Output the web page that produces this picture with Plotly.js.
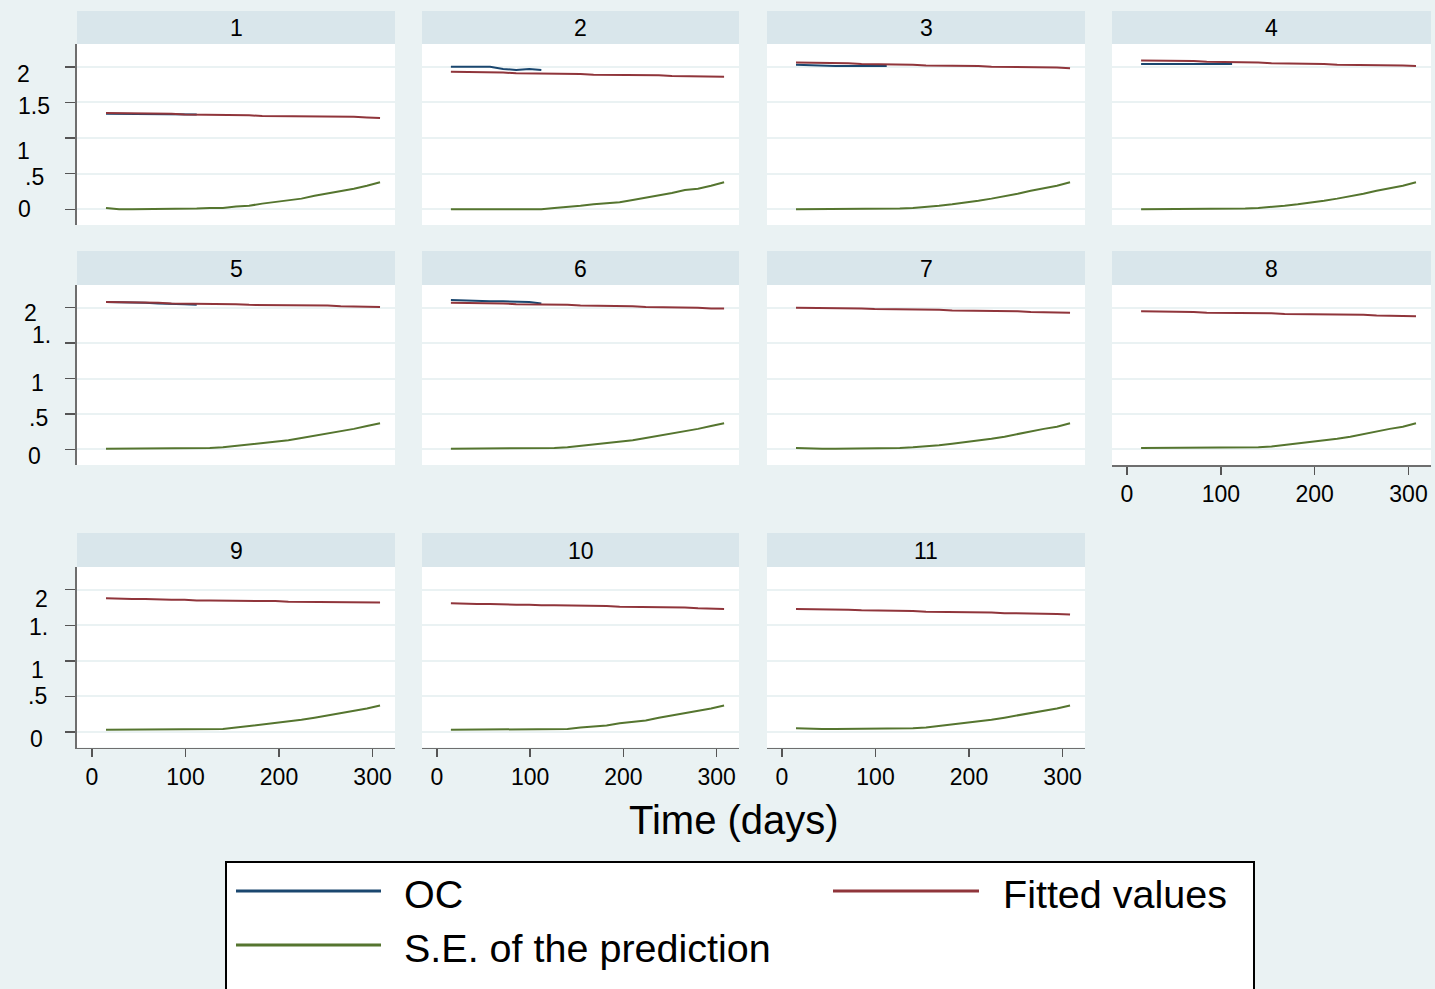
<!DOCTYPE html>
<html>
<head>
<meta charset="utf-8">
<script src="https://cdn.plot.ly/plotly-3.0.1.min.js"></script>
<style>html,body{margin:0;padding:0;background:#eaf2f3;}#chart{width:1435px;height:989px;}</style>
</head>
<body>
<div id="chart"></div>
<script>
// ---------- DATA ----------
const panelLabels = ["1","2","3","4","5","6","7","8","9","10","11"];
const days = [15, 29, 43, 57, 71, 85, 99, 112, 126, 140, 154, 168, 182, 196, 210, 224, 238, 252, 266, 280, 294, 308];
const ocDays = [15, 29, 43, 57, 71, 85, 99, 112];
const xTickVals = [0, 100, 200, 300];
const xTickText = ["0", "100", "200", "300"];
const yGridVals = [0, 0.5, 1, 1.5, 2];

// observed OC (panels 1-6 only)
const oc1 = [1.34, 1.34, 1.34, 1.34, 1.33, 1.33, 1.33, 1.33];
const oc2 = [2.00, 2.00, 2.00, 2.00, 1.97, 1.955, 1.97, 1.955];
const oc3 = [2.03, 2.02, 2.02, 2.01, 2.01, 2.01, 2.01, 2.01];
const oc4 = [2.04, 2.04, 2.04, 2.03, 2.03, 2.04, 2.04, 2.04];
const oc5 = [2.08, 2.08, 2.07, 2.07, 2.06, 2.06, 2.05, 2.04];
const oc6 = [2.11, 2.10, 2.10, 2.09, 2.09, 2.09, 2.08, 2.06];

// fitted values
const fit1  = [1.35, 1.35, 1.34, 1.34, 1.34, 1.34, 1.33, 1.33, 1.33, 1.32, 1.32, 1.32, 1.31, 1.31, 1.31, 1.31, 1.30, 1.30, 1.30, 1.30, 1.29, 1.28];
const fit2  = [1.93, 1.93, 1.93, 1.92, 1.92, 1.91, 1.91, 1.91, 1.90, 1.90, 1.90, 1.89, 1.89, 1.89, 1.89, 1.88, 1.88, 1.87, 1.87, 1.87, 1.86, 1.86];
const fit3  = [2.06, 2.06, 2.05, 2.05, 2.05, 2.04, 2.04, 2.03, 2.03, 2.03, 2.02, 2.02, 2.01, 2.01, 2.01, 2.00, 2.00, 2.00, 1.99, 1.99, 1.99, 1.98];
const fit4  = [2.09, 2.09, 2.08, 2.08, 2.08, 2.07, 2.07, 2.06, 2.06, 2.06, 2.05, 2.05, 2.04, 2.04, 2.04, 2.03, 2.03, 2.03, 2.03, 2.02, 2.02, 2.01];
const fit5  = [2.08, 2.08, 2.08, 2.07, 2.07, 2.06, 2.06, 2.06, 2.05, 2.05, 2.05, 2.04, 2.04, 2.04, 2.04, 2.03, 2.03, 2.03, 2.02, 2.02, 2.01, 2.01];
const fit6  = [2.07, 2.07, 2.06, 2.06, 2.06, 2.05, 2.05, 2.04, 2.04, 2.04, 2.03, 2.03, 2.02, 2.02, 2.02, 2.01, 2.01, 2.01, 2.00, 2.00, 1.99, 1.99];
const fit7  = [2.00, 2.00, 2.00, 1.99, 1.99, 1.99, 1.98, 1.98, 1.98, 1.97, 1.97, 1.97, 1.96, 1.96, 1.96, 1.95, 1.95, 1.95, 1.94, 1.94, 1.93, 1.93];
const fit8  = [1.95, 1.95, 1.94, 1.94, 1.94, 1.93, 1.93, 1.93, 1.92, 1.92, 1.92, 1.91, 1.91, 1.91, 1.91, 1.90, 1.90, 1.90, 1.89, 1.89, 1.88, 1.88];
const fit9  = [1.88, 1.87, 1.87, 1.87, 1.86, 1.86, 1.86, 1.85, 1.85, 1.85, 1.84, 1.84, 1.84, 1.84, 1.83, 1.83, 1.83, 1.83, 1.82, 1.82, 1.82, 1.82];
const fit10 = [1.81, 1.80, 1.80, 1.80, 1.79, 1.79, 1.79, 1.78, 1.78, 1.78, 1.77, 1.77, 1.77, 1.76, 1.76, 1.76, 1.75, 1.75, 1.75, 1.74, 1.74, 1.73];
const fit11 = [1.73, 1.73, 1.72, 1.72, 1.72, 1.71, 1.71, 1.70, 1.70, 1.70, 1.69, 1.69, 1.69, 1.68, 1.68, 1.68, 1.67, 1.67, 1.67, 1.66, 1.66, 1.65];

// standard error of the prediction
const se1  = [0.02, 0.00, 0.00, 0.00, 0.00, 0.00, 0.01, 0.01, 0.02, 0.02, 0.04, 0.05, 0.08, 0.10, 0.13, 0.15, 0.19, 0.22, 0.26, 0.29, 0.33, 0.38];
const se2  = [0.00, 0.00, 0.00, 0.00, 0.00, 0.00, 0.00, 0.00, 0.02, 0.03, 0.05, 0.07, 0.08, 0.10, 0.13, 0.16, 0.19, 0.23, 0.27, 0.29, 0.33, 0.38];
const se3  = [0.00, 0.00, 0.00, 0.00, 0.00, 0.00, 0.00, 0.00, 0.01, 0.02, 0.03, 0.05, 0.07, 0.09, 0.12, 0.15, 0.18, 0.22, 0.26, 0.29, 0.33, 0.38];
const se4  = [0.00, 0.00, 0.00, 0.00, 0.00, 0.00, 0.00, 0.00, 0.01, 0.02, 0.03, 0.05, 0.07, 0.09, 0.12, 0.15, 0.18, 0.22, 0.26, 0.29, 0.33, 0.38];
const se5  = [0.01, 0.01, 0.01, 0.01, 0.01, 0.01, 0.01, 0.01, 0.02, 0.03, 0.05, 0.06, 0.09, 0.11, 0.13, 0.16, 0.19, 0.23, 0.26, 0.29, 0.33, 0.37];
const se6  = [0.01, 0.01, 0.01, 0.01, 0.01, 0.01, 0.01, 0.01, 0.02, 0.03, 0.05, 0.06, 0.09, 0.11, 0.13, 0.16, 0.19, 0.23, 0.26, 0.29, 0.33, 0.37];
const se7  = [0.02, 0.01, 0.01, 0.01, 0.01, 0.01, 0.01, 0.02, 0.02, 0.03, 0.04, 0.06, 0.08, 0.10, 0.12, 0.15, 0.18, 0.22, 0.26, 0.29, 0.32, 0.37];
const se8  = [0.02, 0.02, 0.02, 0.02, 0.02, 0.02, 0.02, 0.02, 0.02, 0.03, 0.04, 0.06, 0.08, 0.10, 0.12, 0.15, 0.18, 0.22, 0.26, 0.29, 0.32, 0.37];
const se9  = [0.03, 0.03, 0.03, 0.03, 0.03, 0.03, 0.03, 0.03, 0.04, 0.04, 0.06, 0.08, 0.10, 0.12, 0.14, 0.17, 0.20, 0.23, 0.27, 0.30, 0.33, 0.37];
const se10 = [0.03, 0.03, 0.03, 0.03, 0.03, 0.03, 0.03, 0.03, 0.03, 0.04, 0.06, 0.07, 0.09, 0.12, 0.14, 0.16, 0.20, 0.23, 0.26, 0.29, 0.33, 0.37];
const se11 = [0.05, 0.04, 0.04, 0.04, 0.04, 0.04, 0.04, 0.05, 0.05, 0.05, 0.06, 0.08, 0.10, 0.12, 0.14, 0.17, 0.20, 0.23, 0.26, 0.30, 0.33, 0.37];

// y tick label texts per row (as printed in the original)
const yLabelsRow1 = ["2", "1.5", "1", ".5", "0"];
const yLabelsRow2 = ["2", "1.", "1", ".5", "0"];
const yLabelsRow3 = ["2", "1.", "1", ".5", "0"];

const legendNames = ["OC", "Fitted values", "S.E. of the prediction"];
const xTitle = "Time (days)";

// ---------- STYLE / LAYOUT ----------
const ocList = [oc1, oc2, oc3, oc4, oc5, oc6, null, null, null, null, null];
const fitList = [fit1, fit2, fit3, fit4, fit5, fit6, fit7, fit8, fit9, fit10, fit11];
const seList = [se1, se2, se3, se4, se5, se6, se7, se8, se9, se10, se11];

const W = 1435, H = 989;
const colPx = [[77, 395], [422, 739], [767, 1085], [1112, 1431]];
const rowPx = [[44, 225], [285, 465], [567, 747.5]];
const headPx = [[11, 44], [251, 285], [533, 567]];
const COL_OC = "#1a476f", COL_FIT = "#90353b", COL_SE = "#55752f";
const BG = "#eaf2f3", HEAD = "#d9e6eb";
const FONT = "Liberation Sans, Arial, sans-serif";

const px = v => v / W;
const py = v => 1 - v / H;

const traces = [];
const layout = {
  width: W, height: H,
  margin: {l: 0, r: 0, t: 0, b: 0},
  paper_bgcolor: BG, plot_bgcolor: "#ffffff",
  showlegend: false,
  font: {family: FONT, color: "#000000"},
  shapes: [], annotations: []
};

for (let i = 0; i < 11; i++) {
  const r = Math.floor(i / 4), c = i % 4;
  const n = i + 1;
  const xa = "x" + (n === 1 ? "" : n), ya = "y" + (n === 1 ? "" : n);
  const xKey = "xaxis" + (n === 1 ? "" : n), yKey = "yaxis" + (n === 1 ? "" : n);
  const isBottom = (n >= 8);
  const isLeft = (c === 0);

  layout[xKey] = {
    domain: [px(colPx[c][0]), px(colPx[c][1])],
    anchor: ya, range: [-16, 324],
    showgrid: false, zeroline: false,
    showline: isBottom, linecolor: "#6e6e6e", linewidth: 1.5,
    ticks: isBottom ? "outside" : "", ticklen: 8, tickwidth: 1.5, tickcolor: "#555555",
    tickvals: xTickVals, ticktext: xTickText,
    showticklabels: isBottom, tickfont: {size: 23, family: FONT, color: "#000"}
  };
  layout[yKey] = {
    domain: [py(rowPx[r][1]), py(rowPx[r][0])],
    anchor: xa, range: [-0.22, 2.32],
    showgrid: true, gridcolor: BG, gridwidth: 2,
    zeroline: false, tickvals: yGridVals, showticklabels: false,
    showline: isLeft, linecolor: "#6e6e6e", linewidth: 2,
    ticks: isLeft ? "outside" : "", ticklen: 10, tickwidth: 1.5, tickcolor: "#555555"
  };

  if (ocList[i]) {
    traces.push({x: ocDays, y: ocList[i], xaxis: xa, yaxis: ya, type: "scatter", mode: "lines",
      line: {color: COL_OC, width: 2}, name: legendNames[0], hoverinfo: "skip"});
  }
  traces.push({x: days, y: fitList[i], xaxis: xa, yaxis: ya, type: "scatter", mode: "lines",
    line: {color: COL_FIT, width: 2}, name: legendNames[1], hoverinfo: "skip"});
  traces.push({x: days, y: seList[i], xaxis: xa, yaxis: ya, type: "scatter", mode: "lines",
    line: {color: COL_SE, width: 2}, name: legendNames[2], hoverinfo: "skip"});

  // header strip
  layout.shapes.push({type: "rect", xref: "paper", yref: "paper", layer: "below",
    x0: px(colPx[c][0]), x1: px(colPx[c][1]), y0: py(headPx[r][1]), y1: py(headPx[r][0]),
    fillcolor: HEAD, line: {width: 0}});
  layout.annotations.push({xref: "paper", yref: "paper", showarrow: false,
    x: px((colPx[c][0] + colPx[c][1]) / 2), y: py((headPx[r][0] + headPx[r][1]) / 2 + 1),
    xanchor: "center", yanchor: "middle", text: panelLabels[i],
    font: {size: 23, family: FONT, color: "#000"}});
}

// y tick labels for the left column (placed as printed in the original)
const yLabelSpecs = [
  {ax: "y",  texts: yLabelsRow1, xs: [23, 34, 23, 34, 24], vals: [1.90, 1.45, 0.82, 0.45, 0.0]},
  {ax: "y5", texts: yLabelsRow2, xs: [30, 41, 37, 38, 34], vals: [1.92, 1.61, 0.94, 0.44, -0.09]},
  {ax: "y9", texts: yLabelsRow3, xs: [41, 38, 37, 37, 36], vals: [1.87, 1.48, 0.87, 0.50, -0.10]}
];
yLabelSpecs.forEach(s => {
  s.texts.forEach((t, k) => {
    layout.annotations.push({xref: "paper", yref: s.ax, x: px(s.xs[k]), y: s.vals[k],
      xanchor: "center", yanchor: "middle", showarrow: false, text: t,
      font: {size: 23, family: FONT, color: "#000"}});
  });
});

// x axis title
layout.annotations.push({xref: "paper", yref: "paper", x: px(734), y: py(820), xanchor: "center", yanchor: "middle",
  showarrow: false, text: xTitle, font: {size: 40, family: FONT, color: "#000"}});

// legend box (drawn)
layout.shapes.push({type: "rect", xref: "paper", yref: "paper", x0: px(226), x1: px(1254), y0: py(1010), y1: py(862),
  fillcolor: "#ffffff", line: {color: "#000000", width: 2}});
const legItems = [
  {name: legendNames[0], color: COL_OC, lx0: 236, lx1: 381, ly: 891, tx: 402, ty: 894},
  {name: legendNames[1], color: COL_FIT, lx0: 833, lx1: 979, ly: 891, tx: 1001, ty: 894},
  {name: legendNames[2], color: COL_SE, lx0: 236, lx1: 381, ly: 945, tx: 402, ty: 948}
];
legItems.forEach(it => {
  layout.shapes.push({type: "line", xref: "paper", yref: "paper", x0: px(it.lx0), x1: px(it.lx1), y0: py(it.ly), y1: py(it.ly),
    line: {color: it.color, width: 3}});
  layout.annotations.push({xref: "paper", yref: "paper", x: px(it.tx), y: py(it.ty), xanchor: "left", yanchor: "middle",
    showarrow: false, text: it.name, font: {size: 39.5, family: FONT, color: "#000"}});
});

Plotly.newPlot("chart", traces, layout, {staticPlot: true, displayModeBar: false});
</script>
</body>
</html>
